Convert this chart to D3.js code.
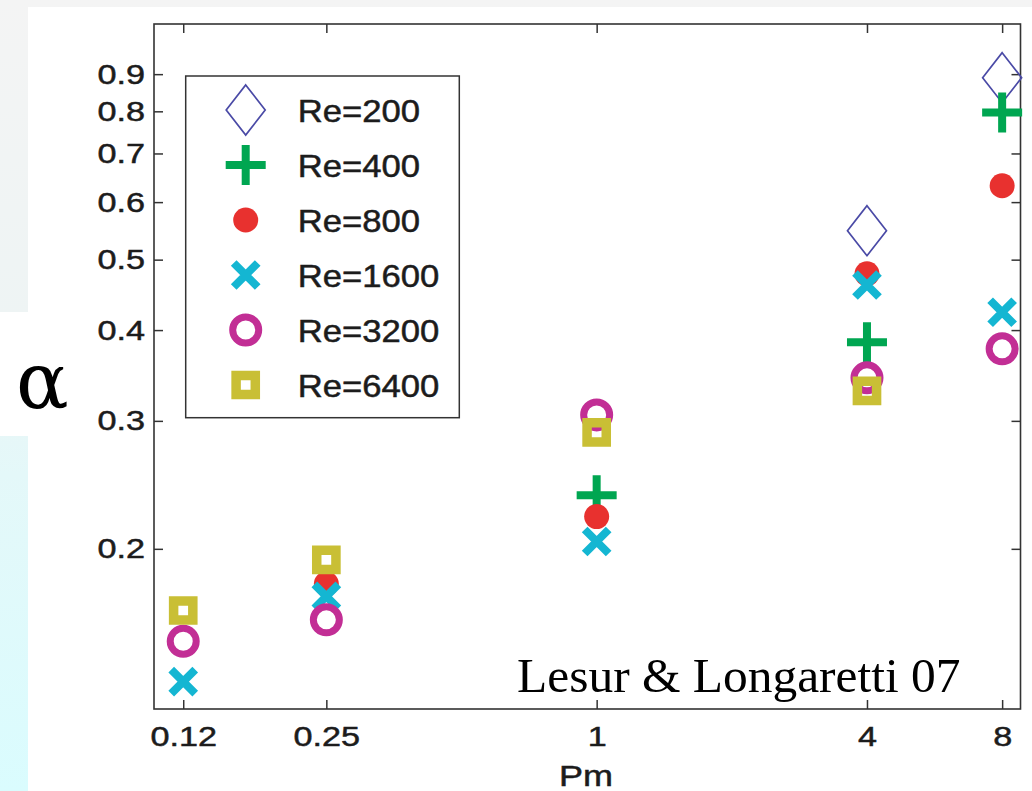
<!DOCTYPE html>
<html>
<head>
<meta charset="utf-8">
<script src="https://cdn.jsdelivr.net/npm/d3@7"></script>
<style>
  html, body { margin: 0; padding: 0; background: #fff; }
  svg { display: block; }
</style>
</head>
<body>
<svg id="chart" width="1032" height="791"></svg>
<script>
// ---------------- data ----------------
const pmValues = [0.12, 0.25, 1, 4, 8];
const xTickLabels = ["0.12", "0.25", "1", "4", "8"];
const yTickValues = [0.2, 0.3, 0.4, 0.5, 0.6, 0.7, 0.8, 0.9];
const seriesNames = ["Re=200", "Re=400", "Re=800", "Re=1600", "Re=3200", "Re=6400"];
const re200  = [null,   null,   null,   0.548,  0.890];
const re400  = [null,   null,   0.237,  0.385,  0.797];
const re800  = [null,   0.179,  0.2215, 0.478,  0.632];
const re1600 = [0.1313, 0.172,  0.2047, 0.4614, 0.4232];
const re3200 = [0.1492, 0.1597, 0.3057, 0.3438, 0.3769];
const re6400 = [0.1645, 0.1931, 0.2892, 0.330,  null];
const seriesValues = [re200, re400, re800, re1600, re3200, re6400];
const xLabel = "Pm";
const yLabel = "α";
const citation = "Lesur & Longaretti 07";

// ---------------- styles ----------------
const markerStyles = [
  { kind: "diamond", color: "#4a4aa6" },
  { kind: "plus",    color: "#00a651" },
  { kind: "dot",     color: "#e8312f" },
  { kind: "cross",   color: "#14b6d2" },
  { kind: "ring",    color: "#c22e95" },
  { kind: "square",  color: "#c9bf35" }
];

const svg = d3.select("#chart");
const W = 1032, H = 791;
const plot = { left: 154, right: 1020.5, top: 24, bottom: 709 };

// background (slide)
const defs = svg.append("defs");
const grad = defs.append("linearGradient").attr("id", "bg").attr("x1", 0).attr("y1", 0).attr("x2", 0).attr("y2", 1);
grad.append("stop").attr("offset", "0%").attr("stop-color", "#f4f4f4");
grad.append("stop").attr("offset", "40%").attr("stop-color", "#eef4f4");
grad.append("stop").attr("offset", "60%").attr("stop-color", "#e4f8f9");
grad.append("stop").attr("offset", "100%").attr("stop-color", "#dafcfe");
svg.append("rect").attr("width", W).attr("height", H).attr("fill", "url(#bg)");
svg.append("rect").attr("x", 28).attr("y", 7).attr("width", W - 28).attr("height", H - 7).attr("fill", "#fff");
svg.append("rect").attr("x", 0).attr("y", 312).attr("width", 28).attr("height", 124).attr("fill", "#fff");

// scales
const x = d3.scaleLog().domain([0.1033, 8.79]).range([plot.left, plot.right]);
const y = d3.scaleLog().domain([0.1204, 1.055]).range([plot.bottom, plot.top]);

const axisColor = "#333";
const textColor = "#1c1c1c";
const tickFont = "Liberation Sans, Arial, Helvetica, sans-serif";

function stretchTexts(sel, sx) {
  sel.selectAll("text").each(function () {
    const t = d3.select(this);
    const tx = +t.attr("x") || 0;
    t.attr("transform", `translate(${tx},0) scale(${sx},1) translate(${-tx},0)`);
  });
}

// bottom axis
const gB = svg.append("g").attr("transform", `translate(0,${plot.bottom})`)
  .call(d3.axisBottom(x).tickValues(pmValues).tickFormat((d, i) => xTickLabels[i])
    .tickSizeInner(-9).tickSizeOuter(0).tickPadding(17));
// top axis
const gT = svg.append("g").attr("transform", `translate(0,${plot.top})`)
  .call(d3.axisTop(x).tickValues(pmValues).tickFormat("").tickSizeInner(-9).tickSizeOuter(0));
// left axis
const gL = svg.append("g").attr("transform", `translate(${plot.left},0)`)
  .call(d3.axisLeft(y).tickValues(yTickValues).tickFormat(d3.format(".1f"))
    .tickSizeInner(-9).tickSizeOuter(0).tickPadding(9));
// right axis
const gR = svg.append("g").attr("transform", `translate(${plot.right},0)`)
  .call(d3.axisRight(y).tickValues(yTickValues).tickFormat("").tickSizeInner(-9).tickSizeOuter(0));

[gB, gT, gL, gR].forEach(g => {
  g.select(".domain").remove();
  g.selectAll(".tick line").attr("stroke", axisColor).attr("stroke-width", 1.5);
  g.selectAll("text").attr("font-family", tickFont).attr("font-size", 28.5)
    .attr("fill", textColor).attr("stroke", textColor).attr("stroke-width", 0.5);
});
stretchTexts(gL, 1.2);
gB.selectAll("text").each(function () {
  d3.select(this).attr("transform", "scale(1.2,1)");
});

// frame
svg.append("rect")
  .attr("x", plot.left).attr("y", plot.top)
  .attr("width", plot.right - plot.left).attr("height", plot.bottom - plot.top)
  .attr("fill", "none").attr("stroke", axisColor).attr("stroke-width", 1.6);

// marker drawing
function drawMarker(g, kind, color) {
  switch (kind) {
    case "diamond":
      g.append("path").attr("d", "M0,-25L19.5,0L0,25L-19.5,0Z")
        .attr("fill", "none").attr("stroke", color).attr("stroke-width", 1.7);
      break;
    case "plus":
      g.append("path").attr("d", "M-20,0H20M0,-20V20")
        .attr("fill", "none").attr("stroke", color).attr("stroke-width", 8);
      break;
    case "dot":
      g.append("circle").attr("r", 12.5).attr("fill", color);
      break;
    case "cross":
      g.append("path").attr("d", "M-12,-12L12,12M12,-12L-12,12")
        .attr("fill", "none").attr("stroke", color).attr("stroke-width", 8);
      break;
    case "ring":
      g.append("circle").attr("r", 13).attr("fill", "none")
        .attr("stroke", color).attr("stroke-width", 7);
      break;
    case "square":
      g.append("path").attr("d", "M-9.6,-9.6H9.6V9.6H-9.6Z")
        .attr("fill", "none").attr("stroke", color).attr("stroke-width", 9.5);
      break;
  }
}

// data points
const gPts = svg.append("g");
seriesValues.forEach((vals, si) => {
  const st = markerStyles[si];
  const sg = gPts.append("g").attr("class", "series-" + si);
  sg.selectAll("g.pt")
    .data(pmValues.map((p, i) => ({ p, v: vals[i] })).filter(d => d.v != null))
    .join("g").attr("class", "pt")
    .attr("transform", d => `translate(${x(d.p)},${y(d.v)})`)
    .each(function () { drawMarker(d3.select(this), st.kind, st.color); });
});

// legend
const legend = { x: 185.7, y: 76, w: 273.6, h: 341.7, row0: 110, rowGap: 55, mx: 245.7, tx: 297.7 };
svg.append("rect").attr("x", legend.x).attr("y", legend.y)
  .attr("width", legend.w).attr("height", legend.h)
  .attr("fill", "#fff").attr("stroke", axisColor).attr("stroke-width", 1.5);
seriesNames.forEach((name, i) => {
  const cy = legend.row0 + i * legend.rowGap;
  const g = svg.append("g").attr("transform", `translate(${legend.mx},${cy})`);
  drawMarker(g, markerStyles[i].kind, markerStyles[i].color);
  svg.append("text")
    .attr("transform", `translate(${legend.tx},${cy + 11.5}) scale(1.1,1)`)
    .attr("font-family", tickFont).attr("font-size", 31.5)
    .attr("fill", textColor).attr("stroke", textColor).attr("stroke-width", 0.5)
    .text(name);
});

// axis labels
svg.append("text")
  .attr("transform", `translate(586,786) scale(1.2,1)`)
  .attr("text-anchor", "middle")
  .attr("font-family", tickFont).attr("font-size", 30)
  .attr("fill", textColor).attr("stroke", textColor).attr("stroke-width", 0.5)
  .text(xLabel);

svg.append("text")
  .attr("x", 16).attr("y", 408)
  .attr("font-family", "DejaVu Serif, Liberation Serif, serif").attr("font-size", 78)
  .attr("fill", "#000")
  .text(yLabel);

svg.append("text")
  .attr("transform", "translate(517,692) scale(1.02,1)")
  .attr("font-family", "Liberation Serif, Times New Roman, serif").attr("font-size", 48.5)
  .attr("fill", "#000")
  .text(citation);
</script>
</body>
</html>
